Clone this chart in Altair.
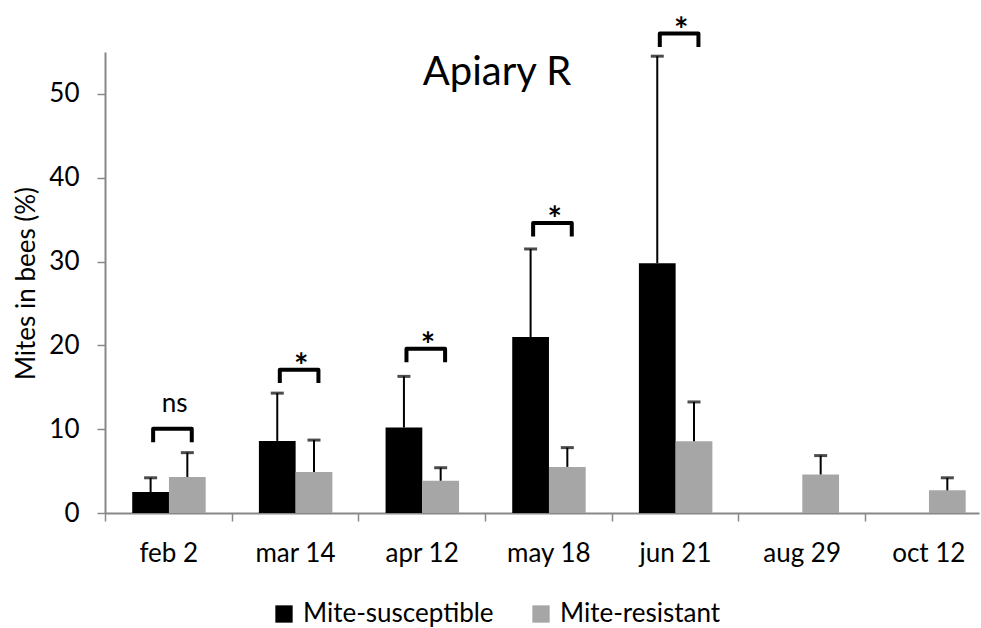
import altair as alt
import pandas as pd

# ---- data ----
dates = ["feb 2", "mar 14", "apr 12", "may 18", "jun 21", "aug 29", "oct 12"]
groups = ["Mite-susceptible", "Mite-resistant"]
colors = ["#000000", "#A6A6A6"]

susceptible = [2.5, 8.6, 10.2, 21.0, 29.8, None, None]
susceptible_err = [1.7, 5.7, 6.1, 10.5, 24.7, None, None]
resistant = [4.3, 4.9, 3.85, 5.5, 8.55, 4.6, 2.7]
resistant_err = [2.9, 3.8, 1.55, 2.3, 4.7, 2.25, 1.5]

sig_dates = ["feb 2", "mar 14", "apr 12", "may 18", "jun 21"]
sig_labels = ["ns", "*", "*", "*", "*"]
sig_heights = [10.05, 17.1, 19.6, 34.6, 57.2]

# ---- layout constants (in category units) ----
BAR_W = 0.29
GROUP_LEFT = 0.215
BR_L, BR_R, BR_DROP = 0.38, 0.685, 1.6
TXT_X = 0.55
FONT = "Lato"

rows = []
for i, d in enumerate(dates):
    for k, (g, vals, errs) in enumerate(
        [(groups[0], susceptible, susceptible_err), (groups[1], resistant, resistant_err)]
    ):
        v = vals[i]
        if v is None:
            continue
        x0 = i + GROUP_LEFT + k * BAR_W
        rows.append(dict(date=d, group=g, x0=x0, x1=x0 + BAR_W, xc=x0 + BAR_W / 2,
                         value=v, zero=0.0, top=v + errs[i]))
df = pd.DataFrame(rows)

br_rows, txt_rows = [], []
for j, (d, h, lab) in enumerate(zip(sig_dates, sig_heights, sig_labels)):
    i = dates.index(d)
    pts = [(i + BR_L, h - BR_DROP), (i + BR_L, h), (i + BR_R, h), (i + BR_R, h - BR_DROP)]
    for o, (x, y) in enumerate(pts):
        br_rows.append(dict(b=j, o=o, x=x, y=y))
    txt_rows.append(dict(x=i + TXT_X, y=h, label=lab))
br = pd.DataFrame(br_rows)
txt = pd.DataFrame(txt_rows)

label_expr = "[" + ",".join("'%s'" % d for d in dates) + "][datum.value]"

xscale = alt.Scale(domain=[0, 6.9], nice=False)
yscale = alt.Scale(domain=[0, 55], nice=False)

xaxis = alt.Axis(values=list(range(7)), labelExpr=label_expr, labelOffset=63.3,
                 labelPadding=19, tickSize=8, labelFlush=False, labelOverlap=False,
                 labelFontSize=26, labelFont=FONT, labelColor="#000000",
                 domainColor="#888888", tickColor="#888888", domainWidth=2, tickWidth=1.5,
                 grid=False, title=None)
yaxis = alt.Axis(values=[0, 10, 20, 30, 40, 50], tickSize=8, labelPadding=18,
                 labelFontSize=26, labelFont=FONT, labelColor="#000000",
                 domainColor="#888888", tickColor="#888888", domainWidth=2, tickWidth=1.5,
                 grid=False, title="Mites in bees (%)", titleFontSize=26, titleFont=FONT,
                 titleFontWeight="normal", titleColor="#000000", titleX=-66, titleY=231)

bars = alt.Chart(df).mark_rect().encode(
    x=alt.X("x0:Q", scale=xscale, axis=xaxis),
    x2="x1:Q",
    y=alt.Y("value:Q", scale=yscale, axis=yaxis),
    y2="zero:Q",
    color=alt.Color("group:N", scale=alt.Scale(domain=groups, range=colors),
                    legend=alt.Legend(orient="none", legendX=166, legendY=549,
                                      direction="horizontal", columns=2, title=None,
                                      symbolType="square", symbolSize=300,
                                      symbolStrokeWidth=0, labelFontSize=26,
                                      labelFont=FONT, labelColor="#000000",
                                      labelLimit=400, columnPadding=34, labelOffset=6)),
)

err = alt.Chart(df).mark_rule(color="#000000", strokeWidth=2).encode(
    x="xc:Q", y="value:Q", y2="top:Q")
caps = alt.Chart(df).mark_tick(orient="horizontal", size=13, thickness=3,
                                color="#000000").encode(x="xc:Q", y="top:Q")

brackets = alt.Chart(br).mark_line(color="#000000", strokeWidth=4, strokeJoin="round").encode(
    x="x:Q", y="y:Q", detail="b:N", order="o:Q")

stars = alt.Chart(txt).transform_filter("datum.label == '*'").mark_text(
    font=FONT, fontSize=34, fontWeight="bold", baseline="alphabetic", dy=8,
    color="#000000").encode(x="x:Q", y="y:Q", text="label:N")
ns = alt.Chart(txt).transform_filter("datum.label != '*'").mark_text(
    font=FONT, fontSize=26, baseline="alphabetic", dy=-17,
    color="#000000").encode(x="x:Q", y="y:Q", text="label:N")

chart = alt.layer(bars, err, caps, brackets, stars, ns).properties(
    width=874, height=461,
    autosize="none",
    padding={"left": 105, "top": 52, "right": 2, "bottom": 115},
    title=alt.TitleParams(text="Apiary R", fontSize=40, font=FONT, fontWeight="normal",
                          anchor="middle", dx=-45, offset=-110, baseline="alphabetic",
                          color="#000000"),
).configure_view(stroke=None)

chart.save("out.html", embed_options={"renderer": "svg", "actions": False})
